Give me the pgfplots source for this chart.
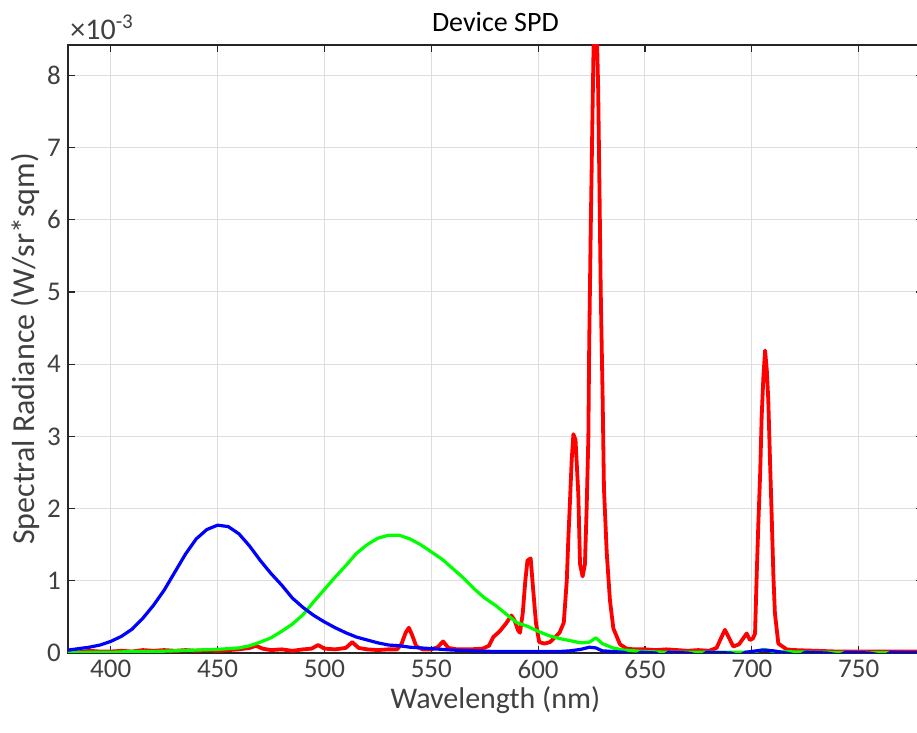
\documentclass[border=0pt]{standalone}
\usepackage{fontspec}
\setmainfont{Carlito}
\usepackage{pgfplots}
\pgfplotsset{compat=1.18}
\usetikzlibrary{calc}
\definecolor{axgray}{HTML}{262626}
\definecolor{txtgray}{HTML}{404040}

\begin{document}
\begin{tikzpicture}
\begin{axis}[
  scale only axis,
  width=427.4pt, height=304pt,
  xmin=380, xmax=780, ymin=0, ymax=8.42,
  xtick={400,450,...,750}, ytick={0,1,...,8},
  /pgf/number format/assume math mode=true,
  tick label style={font=\fontsize{13.5}{15}\selectfont, text=txtgray},
  title style={font=\fontsize{14}{16}\selectfont, text=black, yshift=-3pt},
  title={Device SPD},
  xlabel={Wavelength (nm)},
  ylabel={Spectral Radiance (W/sr*sqm)},
  xlabel style={font=\fontsize{15}{17}\selectfont, text=txtgray, yshift=3pt},
  ylabel style={font=\fontsize{16}{18}\selectfont, text=txtgray, yshift=-3pt},
  axis line style={draw=axgray, line width=0.6pt},
  tick style={draw=axgray, line width=0.6pt},
  tick align=inside, major tick length=3.5pt,
  xmajorgrids, ymajorgrids,
  grid style={draw=black!13, line width=0.5pt},
  every axis plot/.append style={line width=1.6pt, line join=round},
]
\coordinate (sw) at (rel axis cs:0,0);
\coordinate (nw) at (rel axis cs:0,1);

% red channel
\addplot[red, line width=1.9pt] coordinates {
(380,0.02) (385,0.01) (390,0.03) (395,0.02) (400,0.02) (405,0.03) (410,0.02) (415,0.04)
(420,0.03) (425,0.04) (430,0.03) (435,0.04) (440,0.03) (445,0.04) (450,0.03) (455,0.04)
(460,0.05) (465,0.07) (468,0.10) (471,0.06) (475,0.04) (480,0.05) (485,0.03) (490,0.05)
(494,0.06) (497,0.11) (500,0.06) (505,0.05) (510,0.07) (513,0.15) (516,0.07) (520,0.05)
(525,0.04) (530,0.05) (534,0.05) (536,0.12) (538,0.28) (539.5,0.35) (541,0.25) (543,0.09)
(546,0.05) (550,0.05) (553,0.08) (555.5,0.16) (558,0.07) (562,0.05) (568,0.05) (574,0.06)
(577,0.10) (579,0.22) (582,0.30) (585,0.41) (587.5,0.52) (589,0.45) (590.5,0.32) (591.5,0.28)
(592.8,0.55) (594,1.00) (595,1.28) (596.5,1.31) (597.7,0.87) (599,0.41) (600.5,0.15) (603,0.13)
(605.5,0.15) (608,0.22) (610,0.28) (612,0.42) (613.4,1.00) (614.1,1.56) (614.9,2.10) (615.7,2.67)
(616.5,3.03) (617.5,2.95) (618.8,2.20) (619.6,1.23) (620.8,1.06) (621.9,1.23) (622.7,2.00) (623.5,2.98)
(623.9,4.28) (624.6,5.84) (625.3,7.20) (626.1,8.70) (627.4,8.70) (628.1,7.80) (628.6,6.67) (629.3,5.00)
(630.2,3.50) (630.8,2.28) (632.1,1.39) (633.6,0.73) (635.2,0.34) (638.3,0.12) (641.4,0.06) (645,0.05)
(650,0.05) (655,0.04) (660,0.05) (665,0.04) (670,0.03) (675,0.04) (680,0.03) (683.5,0.07)
(685.5,0.20) (687.4,0.32) (689.5,0.20) (691.3,0.09) (694,0.12) (697.6,0.27) (699.1,0.18) (700.5,0.20)
(701.5,0.27) (702.3,1.10) (703,1.75) (703.9,2.49) (704.6,3.27) (705.4,3.82) (706.2,4.19) (707,3.92)
(707.7,3.50) (708.5,2.67) (709.3,1.89) (710.1,1.06) (710.8,0.55) (712.4,0.13) (716.3,0.05) (720,0.04)
(730,0.03) (740,0.02) (750,0.02) (760,0.02) (770,0.02) (780,0.02)
};

% green channel
\addplot[green] coordinates {
(380,0.00) (390,0.01) (400,0.01) (410,0.02) (420,0.02) (430,0.03) (440,0.04) (450,0.05)
(455,0.06) (460,0.07) (465,0.10) (470,0.15) (475,0.21) (480,0.30) (485,0.40) (490,0.53)
(495,0.71) (500,0.88) (505,1.05) (510,1.21) (515,1.38) (520,1.50) (525,1.59) (530,1.63)
(535,1.63) (540,1.58) (545,1.50) (550,1.40) (555,1.30) (560,1.17) (565,1.04) (570,0.89)
(575,0.76) (580,0.66) (585,0.54) (590,0.42) (595,0.37) (600,0.30) (605,0.24) (610,0.20)
(615,0.17) (620,0.14) (624,0.15) (627,0.21) (630,0.13) (635,0.07) (640,0.04) (650,0.02)
(660,0.01) (680,0.01) (700,0.01) (706,0.05) (710,0.02) (730,0.01) (780,0.00)
};

% blue channel
\addplot[blue] coordinates {
(380,0.04) (385,0.06) (390,0.08) (395,0.11) (400,0.16) (405,0.23) (410,0.33) (415,0.48)
(420,0.66) (425,0.87) (430,1.12) (435,1.37) (440,1.58) (445,1.71) (450,1.77) (455,1.75)
(460,1.65) (465,1.48) (470,1.28) (475,1.10) (480,0.94) (485,0.76) (490,0.63) (495,0.52)
(500,0.43) (505,0.35) (510,0.28) (515,0.22) (520,0.18) (525,0.14) (530,0.11) (535,0.10)
(540,0.08) (550,0.06) (560,0.04) (570,0.03) (580,0.02) (590,0.02) (600,0.02) (610,0.02)
(615,0.03) (620,0.05) (624,0.08) (627,0.07) (630,0.03) (640,0.01) (645,-0.04) (648,0.01)
(655,0.0) (658,-0.05) (661,0.01) (670,0.0) (676,-0.04) (679,0.01) (690,0.0) (694,-0.04)
(697,0.01) (705,0.04) (710,0.03) (716,0.0) (722,-0.04) (725,0.01) (735,0.0) (741,-0.03)
(744,0.01) (755,0.0) (762,-0.04) (765,0.01) (780,0.0)
};
\end{axis}
\node[anchor=south west, inner sep=0pt, font=\fontsize{15}{17}\selectfont, text=txtgray]
  at ($(nw)+(1pt,2.5pt)$) {×10\textsuperscript{-3}};
\pgfresetboundingbox
\path ($(sw)+(-34pt,-40pt)$) rectangle ($(nw)+(424.5pt,22.5pt)$);
\end{tikzpicture}
\end{document}
